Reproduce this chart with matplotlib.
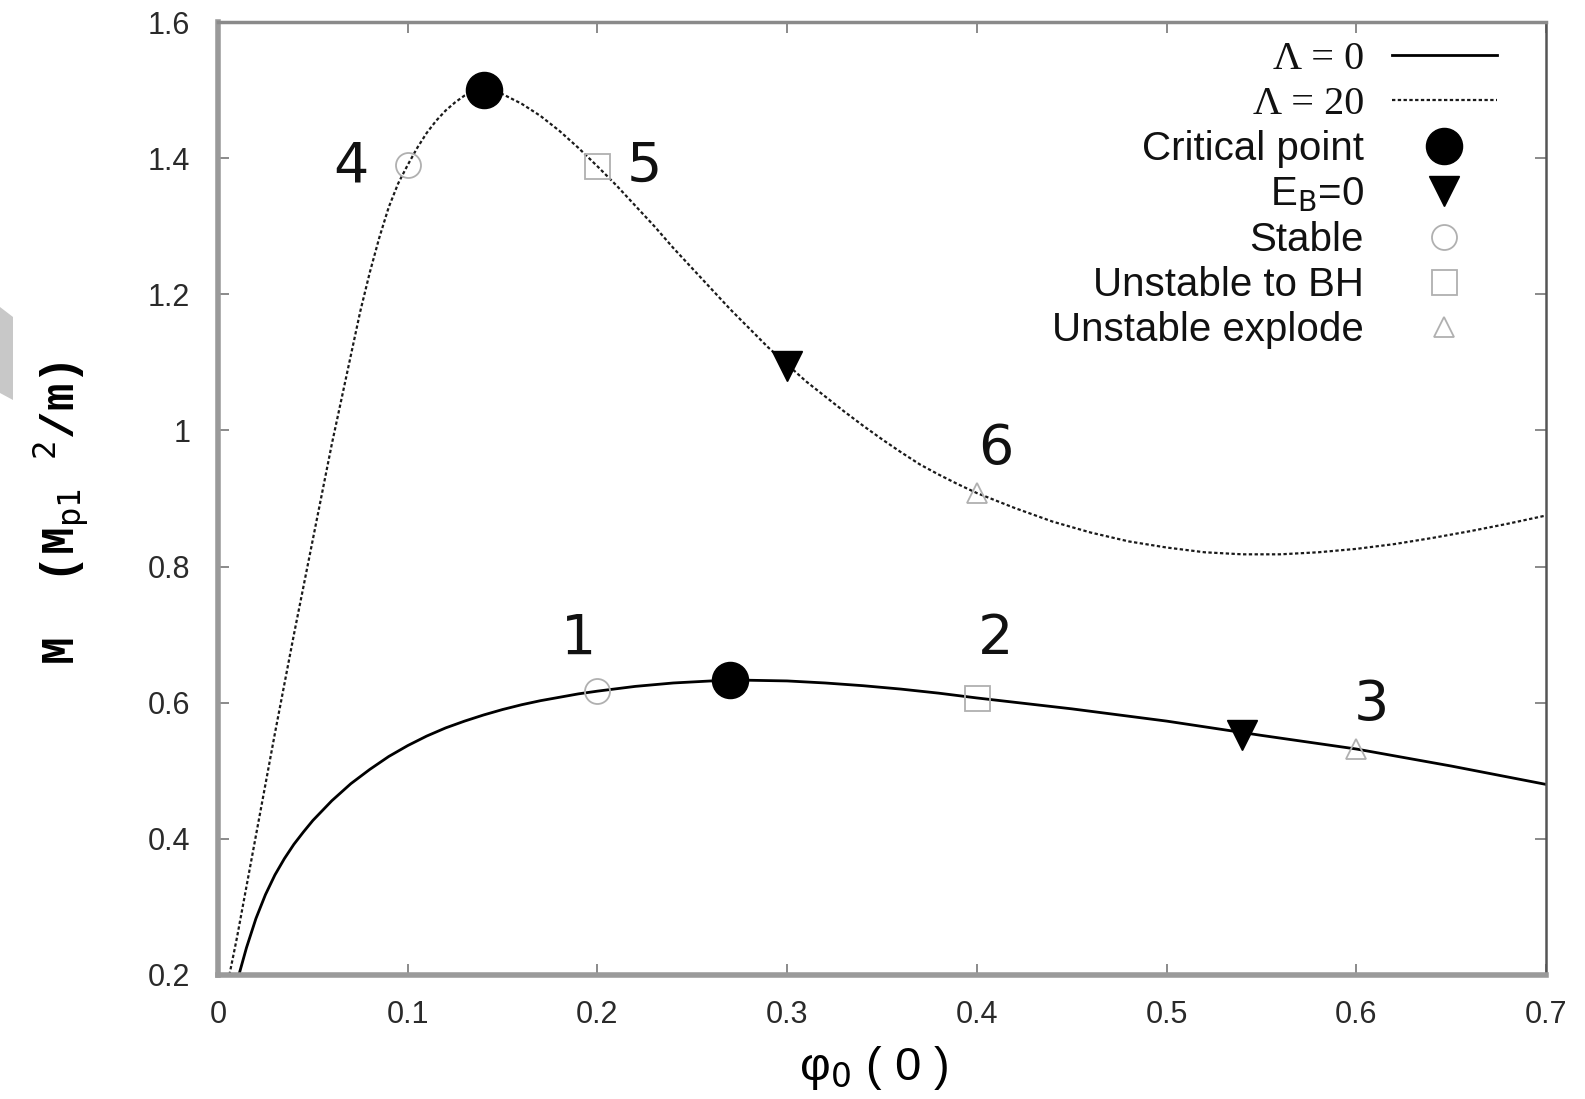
import matplotlib
matplotlib.use("Agg")
import matplotlib.pyplot as plt
from matplotlib.patches import Polygon
from matplotlib.lines import Line2D

# curva Lambda = 0
lam0_x = [0.011, 0.015, 0.02, 0.025, 0.03, 0.035, 0.04, 0.045, 0.05, 0.06, 0.07, 0.08, 0.09,
          0.1, 0.11, 0.12, 0.13, 0.14, 0.15, 0.16, 0.17, 0.18, 0.19, 0.2, 0.22, 0.24, 0.26,
          0.28, 0.3, 0.32, 0.34, 0.36, 0.38, 0.4, 0.45, 0.5, 0.55, 0.6, 0.65, 0.7]
lam0_y = [0.2, 0.24, 0.283, 0.318, 0.347, 0.371, 0.392, 0.41, 0.427, 0.456, 0.481, 0.502, 0.521,
          0.537, 0.551, 0.563, 0.573, 0.582, 0.59, 0.597, 0.603, 0.608, 0.613, 0.617, 0.624, 0.629, 0.632,
          0.633, 0.632, 0.629, 0.625, 0.62, 0.614, 0.607, 0.591, 0.573, 0.552, 0.532, 0.507, 0.48]

# curva Lambda = 20
lam20_x = [0.006, 0.01, 0.02, 0.03, 0.04, 0.05, 0.06, 0.07, 0.075, 0.08, 0.085, 0.09, 0.095,
           0.1, 0.105, 0.11, 0.115, 0.12, 0.125, 0.13, 0.135, 0.14, 0.145, 0.15, 0.16, 0.17,
           0.18, 0.19, 0.2, 0.21, 0.22, 0.23, 0.24, 0.25, 0.26, 0.27, 0.28, 0.29, 0.3, 0.31,
           0.32, 0.33, 0.34, 0.35, 0.36, 0.37, 0.38, 0.39, 0.4, 0.42, 0.44, 0.46, 0.48, 0.5,
           0.52, 0.54, 0.56, 0.58, 0.6, 0.62, 0.64, 0.66, 0.68, 0.7]
lam20_y = [0.2, 0.255, 0.405, 0.555, 0.7, 0.84, 0.98, 1.11, 1.175, 1.232, 1.283, 1.328, 1.363,
           1.39, 1.415, 1.437, 1.455, 1.47, 1.482, 1.492, 1.498, 1.5, 1.499, 1.494, 1.48, 1.462,
           1.44, 1.415, 1.388, 1.36, 1.33, 1.3, 1.268, 1.238, 1.208, 1.178, 1.15, 1.122, 1.097, 1.072,
           1.05, 1.028, 1.007, 0.987, 0.968, 0.95, 0.935, 0.921, 0.908, 0.886, 0.866, 0.85, 0.837, 0.828,
           0.821, 0.818, 0.818, 0.821, 0.826, 0.833, 0.842, 0.852, 0.863, 0.875]

# pontos especiais
crit_x, crit_y = [0.14, 0.27], [1.50, 0.633]
eb0_x, eb0_y = [0.3, 0.54], [1.095, 0.552]
stab_x, stab_y = [0.1, 0.2], [1.39, 0.617]
bh_x, bh_y = [0.2, 0.4], [1.388, 0.607]
expl_x, expl_y = [0.4, 0.6], [0.908, 0.532]

# etiquetas numeradas
num_labels = ["1", "2", "3", "4", "5", "6"]
num_x = [0.190, 0.410, 0.608, 0.070, 0.2245, 0.410]
num_y = [0.694, 0.694, 0.596, 1.388, 1.388, 0.972]

xticks = [0, 0.1, 0.2, 0.3, 0.4, 0.5, 0.6, 0.7]
yticks = [0.2, 0.4, 0.6, 0.8, 1.0, 1.2, 1.4, 1.6]

fig = plt.figure(figsize=(15.85, 10.99), dpi=100)
ax = fig.add_axes([218 / 1585, 1 - 975 / 1099, 1328 / 1585, 953 / 1099])

ax.plot(lam0_x, lam0_y, color="black", lw=2.0, solid_joinstyle="round", zorder=2)
ax.plot(lam20_x, lam20_y, color="#1a1a1a", lw=1.6, dashes=(1.5, 1.1), zorder=2)

gray = "#b0b0b0"
ax.plot(stab_x, stab_y, "o", ms=18, mfc="none", mec=gray, mew=1.3, zorder=3)
ax.plot(bh_x, bh_y, "s", ms=18, mfc="none", mec=gray, mew=1.3, zorder=3)
ax.plot(expl_x, expl_y, "^", ms=15, mfc="none", mec=gray, mew=1.3, zorder=3)
ax.plot(crit_x, crit_y, "o", ms=26, color="black", zorder=4)
ax.plot(eb0_x, eb0_y, "v", ms=21, color="black", zorder=4)

for lab, x, y in zip(num_labels, num_x, num_y):
    ax.text(x, y, lab, fontsize=40, family="DejaVu Sans", ha="center", va="center", color="#111111")

ax.set_xlim(0, 0.7)
ax.set_ylim(0.2, 1.6)
ax.set_xticks(xticks)
ax.set_yticks(yticks)
ax.set_xticklabels(["%g" % t for t in xticks], family="Liberation Sans", fontsize=22, color="#2a2a2a")
ax.set_yticklabels(["%g" % t for t in yticks], family="Liberation Sans", fontsize=22, color="#2a2a2a")
ax.tick_params(direction="in", length=8, width=1.2, color="#777777", top=True, right=True)
ax.tick_params(axis="y", pad=20)
ax.tick_params(axis="x", pad=18)

ax.spines["left"].set_linewidth(4)
ax.spines["left"].set_color("#9a9a9a")
ax.spines["bottom"].set_linewidth(4)
ax.spines["bottom"].set_color("#9a9a9a")
ax.spines["top"].set_linewidth(2.5)
ax.spines["top"].set_color("#8a8a8a")
ax.spines["right"].set_linewidth(1.8)
ax.spines["right"].set_color("#555555")

handles = [
    Line2D([], [], color="black", lw=2.0),
    Line2D([], [], color="#1a1a1a", lw=1.6, dashes=(1.5, 1.1)),
    Line2D([], [], ls="none", marker="o", ms=26, color="black"),
    Line2D([], [], ls="none", marker="v", ms=21, color="black"),
    Line2D([], [], ls="none", marker="o", ms=18, mfc="none", mec=gray, mew=1.3),
    Line2D([], [], ls="none", marker="s", ms=18, mfc="none", mec=gray, mew=1.3),
    Line2D([], [], ls="none", marker="^", ms=15, mfc="none", mec=gray, mew=1.3),
]
labels = ["Λ = 0", "Λ = 20", "Critical point", r"E$_{\rm B}$=0",
          "Stable", "Unstable to BH", "Unstable explode"]
leg = ax.legend(handles, labels, loc="upper right", frameon=False, markerfirst=False,
                prop={"family": "Liberation Sans", "size": 29}, labelspacing=0.18,
                handlelength=2.6, handletextpad=0.7, borderaxespad=0.0,
                bbox_to_anchor=(0.975, 0.997))
for t in leg.get_texts()[:2]:
    t.set_family("Liberation Serif")
for t in leg.get_texts():
    t.set_ha("right")
    t.set_color("#111111")

ax.set_ylabel(r"M  (M$_{\mathtt{p1}}$ $^{\mathtt{2}}$/m)", family="Liberation Mono",
              fontsize=33, fontweight="bold")
ax.yaxis.set_label_coords(-0.096, 0.485)
fig.text(874 / 1585, 1 - 1044 / 1099, "φ$_0$ ( 0 )", fontsize=34, ha="center", va="top",
         family="Liberation Sans")

# faixa cinzenta no canto esquerdo
band = Polygon([(0, (1099 - 307) / 100), (0.13, (1099 - 317) / 100),
                (0.13, (1099 - 400) / 100), (0, (1099 - 393) / 100)], closed=True,
               transform=fig.dpi_scale_trans, facecolor="#c8c8c8", edgecolor="none")
fig.patches.append(band)

fig.savefig("out.png", dpi=100)
